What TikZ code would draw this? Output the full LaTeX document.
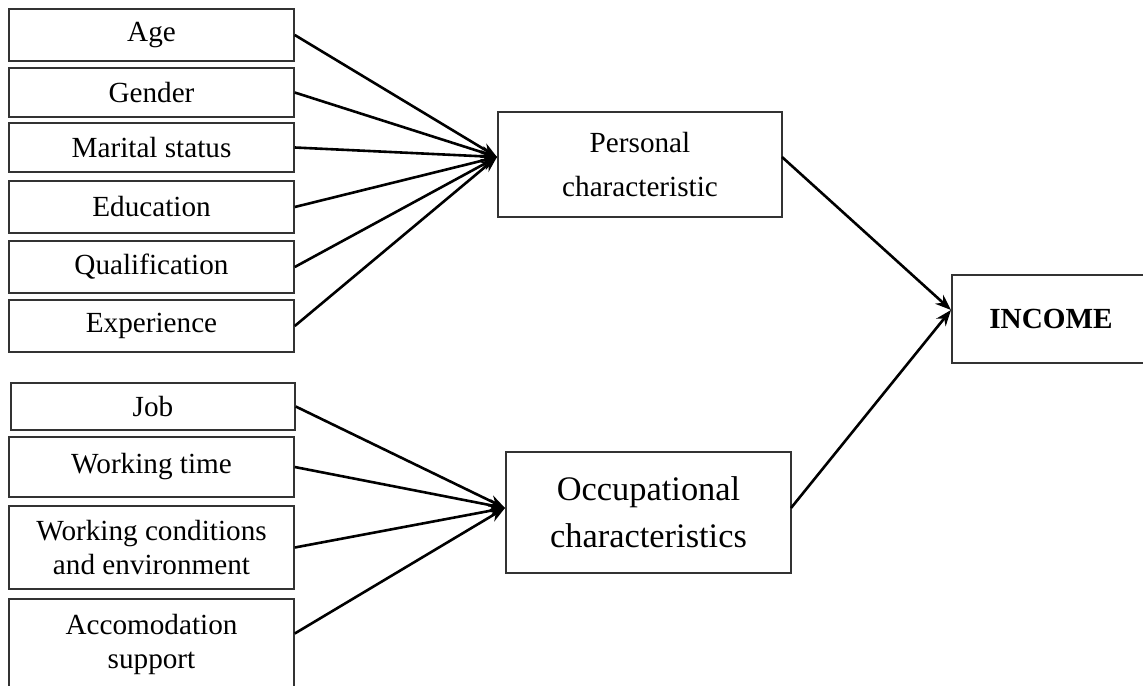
\documentclass[tikz,border=0pt]{standalone}
\usepackage{fontspec}
\setmainfont{Liberation Serif}
\usetikzlibrary{arrows.meta}
\begin{document}
\begin{tikzpicture}[x=0.5pt,y=-0.5pt,
  box/.style={draw=black!80, line width=0.75pt, inner sep=0pt, align=center,
    font=\fontsize{14.6}{17}\selectfont},
  arr/.style={line width=1.3pt, -{Stealth[length=8pt,width=6pt]}}]
\clip (0,0) rectangle (1143,685);
\useasboundingbox (0,0) rectangle (1143,685);
\fill[white] (0,0) rectangle (1143,685);
% left upper group
\node[box, minimum width=142.5pt, minimum height=26pt] (age) at (151.5,35) {Age};
\node[box, minimum width=142.5pt, minimum height=24.5pt] (gen) at (151.5,92.5) {Gender};
\node[box, minimum width=142.5pt, minimum height=24.5pt] (mar) at (151.5,147.5) {Marital status};
\node[box, minimum width=142.5pt, minimum height=26pt] (edu) at (151.5,207) {Education};
\node[box, minimum width=142.5pt, minimum height=26pt] (qua) at (151.5,267) {Qualification};
\node[box, minimum width=142.5pt, minimum height=26pt] (exp) at (151.5,326) {Experience};
% left lower group
\node[box, minimum width=142pt, minimum height=23.5pt] (job) at (153,406.5) {Job};
\node[box, minimum width=142.5pt, minimum height=30pt] (wt) at (151.5,467) {Working time};
\node[box, minimum width=142.5pt, minimum height=41.5pt] (wc) at (151.5,547.5) {Working conditions\\and environment};
\node[box, minimum width=142.5pt, minimum height=45.5pt] (acc) at (151.5,644.5) {Accomodation\\support};
% middle
\node[box, minimum width=142pt, minimum height=52.5pt, font=\fontsize{14.6}{22}\selectfont] (pers) at (640,164.5) {Personal\\characteristic};
\node[box, minimum width=142.5pt, minimum height=60.5pt, font=\fontsize{17.2}{23.5}\selectfont] (occ) at (648.5,512.5) {Occupational\\characteristics};
% right
\node[box, minimum width=99pt, minimum height=44pt, font=\fontsize{14.6}{17}\selectfont\bfseries] (inc) at (1051,319) {INCOME};
% convergence points
\coordinate (pin) at (497,157);
\coordinate (oin) at (505,508);
\coordinate (iin) at (951,310);
\coordinate (pout) at (782,157);
\coordinate (oout) at (791,508);
% connectors
\foreach \n in {age,gen,mar,edu,qua,exp} \draw[arr] (\n.east) -- (pin);
\foreach \n in {job,wt,wc} \draw[arr] (\n.east) -- (oin);
\draw[arr] ([yshift=5.5pt]acc.east) -- (oin);
\draw[arr] (pout) -- (iin);
\draw[arr] (oout) -- (iin);
\end{tikzpicture}
\end{document}
